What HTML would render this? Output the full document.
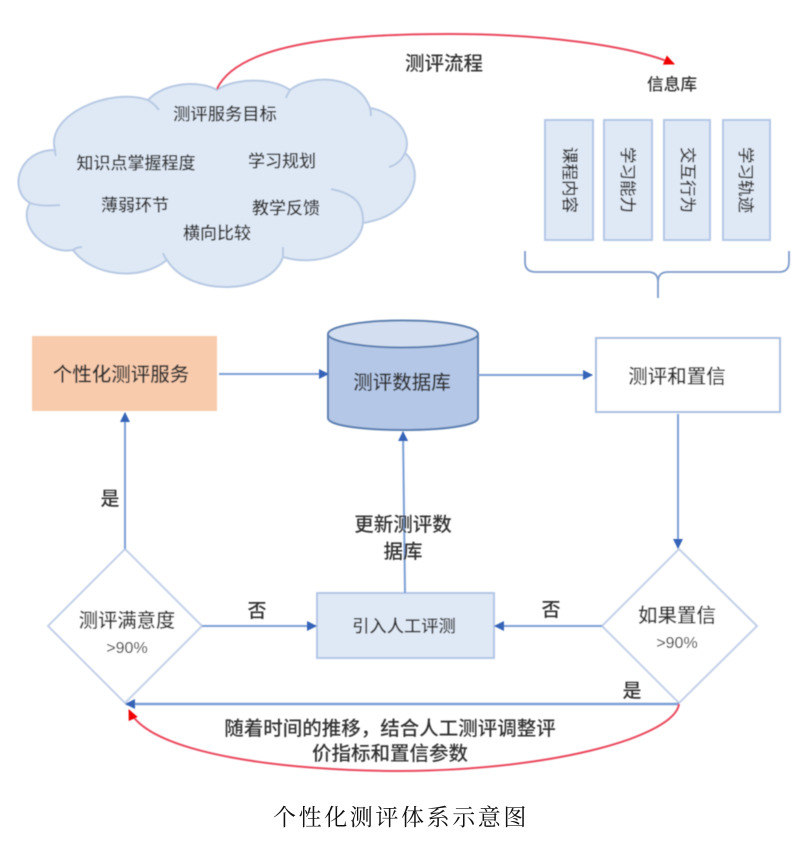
<!DOCTYPE html>
<html>
<head>
<meta charset="utf-8">
<style>
html,body{margin:0;padding:0;background:#fff;width:800px;height:841px;overflow:hidden}
svg{display:block}
text{font-family:"Liberation Sans","Noto Sans CJK SC",sans-serif;fill:#333;text-anchor:middle;font-weight:500}
</style>
</head>
<body>
<svg width="800" height="841" viewBox="0 0 800 841" xmlns="http://www.w3.org/2000/svg">
<defs>
<marker id="b" markerWidth="10" markerHeight="10" refX="9" refY="5" orient="auto" markerUnits="userSpaceOnUse"><path d="M0 0L10 5L0 10Z" fill="#3464b8"/></marker>
<marker id="r" markerWidth="11" markerHeight="10" refX="10" refY="5" orient="auto" markerUnits="userSpaceOnUse"><path d="M0 0L11 5L0 10Z" fill="#f00000"/></marker>
<filter id="s" x="-5%" y="-5%" width="110%" height="110%"><feGaussianBlur stdDeviation="0.5"/></filter>
</defs>
<g filter="url(#s)">
<!-- cloud -->
<path d="M148 100C165 82 200 80 217 90C232 79 270 76 290 90C310 74 358 74 370 108C395 112 413 135 405 153C425 170 416 215 363 223C360 250 320 268 283 257C270 295 190 298 167 260C140 282 92 276 73 250C45 255 17 225 30 203C8 190 18 150 55 150C45 115 110 87 148 100Z" fill="#dfe9f6" stroke="#b7c9e3" stroke-width="2"/>
<path d="M148 100C153 103 156 106 159 110M290 90C288 93 287 95 286 98M370 108C371 111 371 113 371 116M405 153C402 160 396 165 389 167M363 223C364 200 350 193 331 189M283 247C283 251 283 254 283 257M167 260C165 258 164 256 163 253M73 250C76 248 79 247 82 247M30 203C38 206 50 206 60 205M55 150C55 152 55 154 56 156" fill="none" stroke="#b7c9e3" stroke-width="2"/>
<text x="225" y="120" font-size="17.3">测评服务目标</text>
<text x="136" y="169" font-size="17">知识点掌握程度</text>
<text x="282" y="167" font-size="17">学习规划</text>
<text x="135" y="211" font-size="17">薄弱环节</text>
<text x="286" y="214" font-size="17">教学反馈</text>
<text x="217" y="239" font-size="17">横向比较</text>
<!-- red top arc -->
<path d="M217 89C240 38 370 34 450 34C540 34 630 45 674 64" fill="none" stroke="#ea4a5e" stroke-width="2" marker-end="url(#r)"/>
<text x="444" y="70" font-size="19.5">测评流程</text>
<text x="672" y="90" font-size="16.7">信息库</text>
<!-- info boxes -->
<g fill="#dfe8f5" stroke="#b4c7e7" stroke-width="2">
<rect x="545" y="120" width="48" height="120"/>
<rect x="604" y="120" width="48" height="120"/>
<rect x="664" y="120" width="46" height="120"/>
<rect x="723" y="120" width="47" height="120"/>
</g>
<g font-size="16.5">
<text transform="translate(570,180) rotate(90)" y="6">课程内容</text>
<text transform="translate(628,180) rotate(90)" y="6">学习能力</text>
<text transform="translate(688,180) rotate(90)" y="6">交互行为</text>
<text transform="translate(746,180) rotate(90)" y="6">学习轨迹</text>
</g>
<!-- brace -->
<path d="M525 251V262Q525 272 536 272H648Q658 272 658 282V298M658 282Q658 272 668 272H779Q789 272 789 262V251" fill="none" stroke="#7f9bcb" stroke-width="1.8"/>
<!-- main nodes -->
<rect x="32" y="336" width="185" height="75" fill="#f8cbad"/>
<text x="121" y="381" font-size="19.5">个性化测评服务</text>
<path d="M328 334V418C328 434 478 434 478 418V334" fill="#b4c7e7" stroke="#5c7fb0" stroke-width="2"/>
<ellipse cx="403" cy="334" rx="75" ry="13.5" fill="#d3dff1" stroke="#5c7fb0" stroke-width="2"/>
<text x="402" y="389" font-size="19.5">测评数据库</text>
<rect x="596" y="338" width="184" height="74" fill="#fff" stroke="#a9bfe0" stroke-width="2"/>
<text x="677" y="383" font-size="19.5">测评和置信</text>
<rect x="317" y="593" width="177" height="65" fill="#dfe8f5" stroke="#b4c7e7" stroke-width="2"/>
<text x="404" y="632" font-size="17.3">引入人工评测</text>
<path d="M125 549L202 626L125 703L48 626Z" fill="#fff" stroke="#c3d0e8" stroke-width="2"/>
<text x="127" y="627" font-size="19.3">测评满意度</text>
<text x="127" y="653" font-size="16">&gt;90%</text>
<path d="M679 549L757 626L679 703L602 626Z" fill="#fff" stroke="#c3d0e8" stroke-width="2"/>
<text x="677" y="622" font-size="19.5">如果置信</text>
<text x="677" y="648" font-size="16">&gt;90%</text>
<!-- connectors -->
<g fill="none" stroke="#7b9fd6" stroke-width="2">
<path d="M219 374H328" marker-end="url(#b)"/>
<path d="M478 375H592" marker-end="url(#b)"/>
<path d="M678 414V548" marker-end="url(#b)"/>
<path d="M125 549V413" marker-end="url(#b)"/>
<path d="M405 593L403 432" marker-end="url(#b)"/>
<path d="M202 626H316" marker-end="url(#b)"/>
<path d="M602 626H495" marker-end="url(#b)"/>
<path d="M679 704H126" stroke-width="2.5" marker-end="url(#b)"/>
</g>
<!-- red bottom arc -->
<path d="M679 704C675 735 560 770 400 771C290 771 150 755 129 710" fill="none" stroke="#ea4a5e" stroke-width="2" marker-end="url(#r)"/>
<!-- labels -->
<text x="110" y="505" font-size="19">是</text>
<text x="257" y="617" font-size="19">否</text>
<text x="551" y="616" font-size="19">否</text>
<text x="632" y="697" font-size="19">是</text>
<text x="403" y="531" font-size="19.5">更新测评数</text>
<text x="403" y="558" font-size="19.5">据库</text>
<text x="390" y="735" font-size="19.5">随着时间的推移，结合人工测评调整评</text>
<text x="390" y="760" font-size="19.5">价指标和置信参数</text>
</g>
<text x="401" y="825" font-size="23" letter-spacing="2.6" style="font-family:'Liberation Serif','Noto Serif CJK SC',serif;fill:#111;font-weight:400">个性化测评体系示意图</text>
</svg>
</body>
</html>
